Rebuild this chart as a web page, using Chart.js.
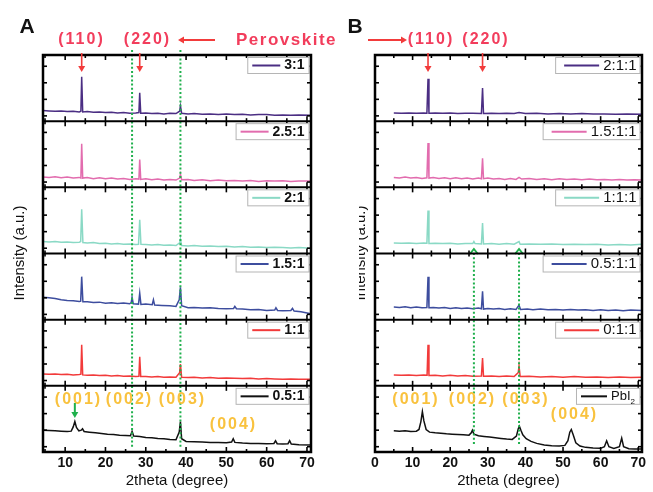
<!DOCTYPE html>
<html>
<head>
<meta charset="utf-8">
<script src="https://cdn.jsdelivr.net/npm/chart.js@4.4.1/dist/chart.umd.min.js"></script>
<style>
  html, body { margin: 0; padding: 0; background: #fff; }
  #wrap { position: relative; width: 653px; height: 492px; }
  canvas { position: absolute; left: 0; top: 0; }
</style>
</head>
<body>
<div id="wrap">
  <canvas id="chartA" width="653" height="492"></canvas>
  <canvas id="chartB" width="653" height="492"></canvas>
</div>
<script>
// valori: [2theta, intensità relativa nel proprio riquadro (0..1)]
const xTicksA = [10, 20, 30, 40, 50, 60, 70];
const xTicksB = [0, 10, 20, 30, 40, 50, 60, 70];

const labelsA = ['3:1', '2.5:1', '2:1', '1.5:1', '1:1', '0.5:1'];
const labelsB = ['2:1:1', '1.5:1:1', '1:1:1', '0.5:1:1', '0:1:1', 'PbI2'];
const colors = ['#4b2e83', '#e26cae', '#8ad9c5', '#3d4d9e', '#f23a3a', '#111111'];

const a31 = [[4.5,.16],[6,.155],[7.5,.15],[9,.155],[10.5,.145],[12,.15],[13.5,.14],[13.9,.15],[14.1,.67],[14.35,.14],[15.5,.145],[17,.135],[18.5,.14],[20,.13],[21.5,.135],[23,.125],[24.5,.13],[26,.12],[27.5,.125],[28.3,.13],[28.5,.43],[28.75,.12],[30,.125],[31.5,.115],[33,.12],[34.5,.11],[36,.12],[37.5,.115],[38.4,.15],[38.6,.23],[38.9,.12],[40.5,.11],[42,.115],[44,.105],[46,.11],[48,.1],[50,.11],[52,.1],[54,.105],[56,.095],[58,.1],[60,.1],[62,.09],[64,.095],[66,.09],[68,.095],[71,.09]];
const a251 = [[4.5,.155],[6,.15],[7.5,.16],[9,.145],[10.5,.155],[12,.14],[13.5,.15],[13.9,.14],[14.1,.66],[14.35,.14],[15.5,.15],[17,.13],[18.5,.145],[20,.13],[21.5,.14],[23,.125],[24.5,.135],[26,.12],[27.5,.13],[28.3,.125],[28.5,.42],[28.75,.12],[30,.13],[31.5,.115],[33,.125],[34.5,.11],[36,.12],[37.5,.11],[38.4,.14],[38.6,.2],[38.9,.115],[40.5,.12],[42,.105],[44,.115],[46,.1],[48,.11],[50,.1],[52,.105],[54,.095],[56,.105],[58,.09],[60,.1],[62,.095],[64,.1],[66,.09],[68,.095],[71,.095]];
const a21 = [[4.5,.18],[6,.175],[7.5,.18],[9,.17],[10.5,.175],[12,.165],[13.5,.17],[13.85,.18],[14.1,.67],[14.4,.165],[15.5,.16],[17,.165],[18.5,.15],[20,.155],[21.5,.145],[23,.15],[24.5,.14],[26,.145],[27.5,.135],[28.2,.14],[28.5,.51],[28.8,.14],[30,.135],[31.5,.13],[33,.135],[34.5,.125],[36,.13],[37.5,.12],[38.4,.16],[38.6,.22],[38.9,.12],[40.5,.115],[42,.12],[44,.11],[46,.115],[48,.105],[50,.11],[52,.1],[54,.105],[56,.095],[58,.1],[60,.09],[62,.095],[64,.09],[66,.085],[68,.09],[71,.08]];
const a151 = [[4.5,.34],[6,.33],[7.5,.32],[9,.3],[10.5,.29],[12,.285],[13.5,.275],[13.85,.28],[14.1,.65],[14.4,.27],[15.5,.27],[17,.26],[18.5,.265],[20,.25],[21.5,.255],[23,.245],[24.5,.25],[26,.24],[26.4,.26],[26.6,.34],[26.9,.24],[28.2,.235],[28.5,.4],[28.8,.23],[30,.235],[31.6,.225],[31.9,.3],[32.2,.22],[34,.215],[36,.21],[37.5,.2],[38.3,.3],[38.6,.49],[38.9,.21],[40.5,.18],[42,.185],[44,.175],[46,.18],[48,.17],[50,.165],[51.8,.17],[52.1,.2],[52.5,.165],[54,.16],[56,.15],[58,.155],[60,.14],[62,.145],[62.3,.18],[62.7,.14],[64,.135],[66,.14],[66.4,.17],[66.8,.13],[68.5,.12],[71,.09]];
const a11 = [[4.5,.18],[6,.175],[7.5,.18],[9,.17],[10.5,.175],[12,.165],[13.5,.17],[13.9,.175],[14.1,.62],[14.35,.165],[15.5,.16],[17,.165],[18.5,.155],[20,.16],[21.5,.15],[23,.155],[24.5,.145],[26,.15],[27.5,.14],[28.3,.145],[28.5,.44],[28.75,.14],[30,.14],[31.5,.135],[33,.14],[34.5,.13],[36,.135],[37.5,.13],[38.4,.2],[38.6,.33],[38.9,.13],[40.5,.125],[42,.13],[44,.12],[46,.125],[48,.115],[50,.12],[52,.115],[54,.11],[56,.115],[58,.105],[60,.11],[62,.105],[64,.1],[66,.105],[68,.1],[71,.1]];
const a051 = [[4.5,.33],[6,.325],[7.5,.32],[9,.315],[10.5,.31],[11.5,.315],[12,.38],[12.4,.46],[12.8,.37],[13.4,.32],[14,.33],[14.3,.35],[14.7,.31],[16,.3],[17.5,.29],[19,.28],[20.5,.27],[22,.265],[23.5,.255],[25,.25],[26.2,.245],[26.6,.31],[27,.24],[28.5,.235],[30,.22],[31.5,.215],[33,.205],[34.5,.2],[36,.19],[37.5,.185],[38.3,.3],[38.6,.46],[38.9,.2],[40,.16],[42,.155],[44,.15],[46,.145],[48,.145],[50,.14],[51.3,.15],[51.7,.2],[52.1,.145],[54,.135],[56,.13],[58,.13],[60,.125],[61.8,.13],[62.2,.17],[62.6,.125],[64,.12],[65.3,.125],[65.7,.17],[66.1,.12],[68,.11],[71,.105]];

const b211 = [[5,.125],[7,.12],[9,.125],[11,.12],[13,.125],[13.8,.12],[14.1,.64],[14.35,.12],[16,.125],[18,.12],[20,.125],[22,.115],[24,.12],[26,.12],[28.3,.115],[28.6,.5],[28.85,.115],[31,.12],[33,.115],[35,.12],[37,.115],[38.3,.13],[40,.115],[43,.12],[46,.11],[49,.115],[52,.11],[55,.115],[58,.11],[61,.11],[64,.105],[67,.11],[71,.105]];
const b1511 = [[5,.15],[6.5,.14],[8,.155],[9.5,.14],[11,.15],[12.5,.135],[13.8,.145],[14.1,.67],[14.35,.14],[15.5,.15],[17,.135],[18.5,.145],[20,.13],[21.5,.145],[23,.13],[24.5,.14],[26,.125],[27.5,.14],[28.3,.13],[28.6,.44],[28.85,.13],[30,.14],[31.5,.125],[33,.135],[34.5,.12],[36,.135],[37.5,.12],[38.3,.15],[39,.125],[41,.135],[43,.12],[45,.13],[47,.115],[49,.13],[51,.12],[53,.125],[55,.115],[57,.125],[59,.115],[61,.12],[63,.11],[65,.12],[67,.11],[69,.115],[71,.11]];
const b111 = [[5,.16],[7,.155],[9,.16],[11,.15],[13,.16],[13.8,.155],[14.1,.65],[14.35,.15],[16,.155],[18,.15],[20,.155],[22,.145],[24,.15],[26,.15],[26.3,.18],[26.6,.15],[28.3,.145],[28.6,.46],[28.85,.145],[31,.15],[33,.14],[35,.15],[37,.14],[38.3,.18],[38.6,.14],[41,.145],[44,.14],[47,.145],[50,.135],[53,.14],[56,.135],[59,.14],[62,.13],[65,.135],[68,.13],[71,.14]];
const b0511 = [[5,.19],[6.5,.185],[8,.195],[9.5,.18],[11,.19],[12.5,.18],[13.8,.185],[14.1,.65],[14.35,.18],[15.5,.185],[17,.175],[18.5,.185],[20,.17],[21.5,.18],[23,.17],[24.5,.175],[26,.165],[27.5,.175],[28.3,.165],[28.6,.43],[28.85,.16],[30,.17],[31.5,.16],[33,.17],[34.5,.155],[36,.165],[37.5,.155],[38.3,.22],[38.7,.155],[40.5,.16],[42,.15],[44,.16],[46,.15],[48,.155],[50,.145],[52,.155],[54,.145],[56,.15],[58,.14],[60,.15],[62,.14],[64,.145],[66,.135],[68,.145],[71,.14]];
const b011 = [[5,.165],[7,.16],[9,.165],[11,.155],[13,.165],[13.85,.16],[14.1,.62],[14.35,.155],[16,.16],[18,.15],[20,.16],[22,.15],[24,.155],[26,.145],[28.3,.15],[28.6,.42],[28.85,.145],[31,.15],[33,.14],[35,.15],[37,.14],[38.1,.2],[38.3,.3],[38.6,.14],[41,.145],[44,.135],[47,.14],[50,.13],[53,.14],[56,.13],[59,.135],[62,.125],[65,.135],[68,.125],[71,.13]];
const bPbI2 = [[5,.32],[6.5,.315],[8,.32],[9.5,.31],[11,.315],[11.7,.34],[12.2,.46],[12.6,.61],[13,.47],[13.6,.34],[14.5,.3],[16,.29],[17.5,.285],[19,.275],[20.5,.27],[22,.265],[23.5,.26],[25,.255],[25.6,.29],[25.9,.33],[26.3,.27],[27.5,.245],[29,.235],[30.5,.225],[32,.215],[33.5,.205],[35,.195],[36.5,.19],[37.6,.24],[38.1,.35],[38.4,.39],[38.8,.33],[39.3,.26],[40.2,.2],[41.5,.16],[43,.13],[45,.105],[47,.095],[49,.09],[50.5,.1],[51.3,.17],[51.8,.3],[52.2,.34],[52.7,.26],[53.4,.14],[54.5,.09],[56,.07],[58,.06],[60,.055],[61,.08],[61.6,.17],[62.2,.08],[63.5,.055],[65,.08],[65.6,.21],[66.1,.08],[67.5,.05],[69,.045],[71,.045]];

const seriesA = [a31, a251, a21, a151, a11, a051];
const seriesB = [b211, b1511, b111, b0511, b011, bPbI2];

const FONT = "'Liberation Sans', Arial, sans-serif";
const RED_TXT = '#f23d5c';
const RED = '#f23b3b';
const GOLD = '#f9c23e';
const GREEN = '#1fb04c';

function line(ctx, x1, y1, x2, y2) {
  ctx.beginPath(); ctx.moveTo(x1, y1); ctx.lineTo(x2, y2); ctx.stroke();
}

// freccia con punta piena, da (x1,y1) verso (x2,y2)
function arrow(ctx, x1, y1, x2, y2, color, w) {
  const ang = Math.atan2(y2 - y1, x2 - x1);
  const hl = 6, hw = 3.5;
  ctx.strokeStyle = color; ctx.fillStyle = color; ctx.lineWidth = w || 1.6;
  line(ctx, x1, y1, x2 - Math.cos(ang) * hl * 0.8, y2 - Math.sin(ang) * hl * 0.8);
  ctx.beginPath();
  ctx.moveTo(x2, y2);
  ctx.lineTo(x2 - Math.cos(ang) * hl - Math.sin(ang) * hw, y2 - Math.sin(ang) * hl + Math.cos(ang) * hw);
  ctx.lineTo(x2 - Math.cos(ang) * hl + Math.sin(ang) * hw, y2 - Math.sin(ang) * hl - Math.cos(ang) * hw);
  ctx.closePath(); ctx.fill();
}

function label(ctx, text, x, y, font, color, spacing, align) {
  ctx.font = font;
  ctx.fillStyle = color;
  ctx.letterSpacing = (spacing || 0) + 'px';
  ctx.textAlign = align || 'center';
  ctx.textBaseline = 'middle';
  ctx.fillText(text, x + (align === 'left' ? 0 : (spacing || 0) / 2), y);
  ctx.letterSpacing = '0px';
}

function dotted(ctx, x, y1, y2) {
  ctx.save();
  ctx.strokeStyle = GREEN; ctx.lineWidth = 2;
  ctx.setLineDash([2, 2.2]);
  line(ctx, x, y1, x, y2);
  ctx.restore();
}

function drawLegend(ctx, right, top, text, color, panel) {
  const isA = panel === 'A';
  const font = isA ? 'bold 14px ' + FONT : '15px ' + FONT;
  const sub = text === 'PbI2';
  ctx.font = sub ? '13px ' + FONT : font;
  let tw = sub ? ctx.measureText('PbI').width + 6 : ctx.measureText(text).width;
  const padL = isA ? 5 : (sub ? 5 : 9), lineLen = isA ? 28 : (sub ? 26 : 35), gap = 4, padR = isA ? 5 : 4;
  const w = padL + lineLen + gap + tw + padR;
  const h = 17;
  const left = right - w;
  ctx.fillStyle = '#fff';
  ctx.fillRect(left, top, w, h);
  ctx.strokeStyle = '#b5b5b5'; ctx.lineWidth = 1;
  ctx.strokeRect(left + 0.5, top + 0.5, w - 1, h - 1);
  ctx.strokeStyle = color; ctx.lineWidth = 2;
  line(ctx, left + padL, top + h / 2, left + padL + lineLen, top + h / 2);
  ctx.fillStyle = '#111'; ctx.textAlign = 'left'; ctx.textBaseline = 'middle';
  const tx = left + padL + lineLen + gap;
  if (sub) {
    ctx.fillText('PbI', tx, top + h / 2);
    const pw = ctx.measureText('PbI').width;
    ctx.font = '8px ' + FONT;
    ctx.fillText('2', tx + pw, top + h / 2 + 5);
  } else {
    ctx.font = font;
    ctx.fillText(text, tx, top + h / 2);
  }
}

// disegna cornici, tacche, legende e annotazioni di un pannello
function panelPlugin(panel, names, ticks, annotate) {
  return {
    id: 'panel' + panel,
    afterDatasetsDraw(chart) {
      const ctx = chart.ctx;
      const xs = chart.scales.x, ys = chart.scales.y;
      const { left, right, top, bottom } = chart.chartArea;
      ctx.save();
      annotate.lines(ctx, xs);

      ctx.strokeStyle = '#000';
      ctx.lineWidth = 2;
      for (let i = 1; i < 6; i++) {
        const py = ys.getPixelForValue(i);
        line(ctx, left, py, right, py);
      }
      for (let i = 0; i < 6; i++) {
        const t = ys.getPixelForValue(6 - i), b = ys.getPixelForValue(5 - i);
        ctx.strokeStyle = '#000';
        ctx.lineWidth = 1.6;
        for (let v = Math.ceil(xs.min / 5) * 5; v < xs.max; v += 5) {
          const len = v % 10 === 0 ? 5 : 3;
          const px = xs.getPixelForValue(v);
          line(ctx, px, t, px, t + len);
          line(ctx, px, b, px, b - len);
        }
        [0.08, 0.33, 0.58, 0.83].forEach(f => {
          const py = ys.getPixelForValue(5 - i + f);
          line(ctx, left, py, left + 4, py);
          line(ctx, right, py, right - 4, py);
        });
        drawLegend(ctx, right - 1.5, t + 2, names[i], colors[i], panel);
      }
      ctx.strokeStyle = '#000';
      ctx.lineWidth = 2.5;
      ctx.strokeRect(left, top, right - left, bottom - top);

      ticks.forEach(v => label(ctx, String(v), xs.getPixelForValue(v), 463, 'bold 14px ' + FONT, '#111'));
      label(ctx, '2theta (degree)', (left + right) / 2, 481, '15px ' + FONT, '#111');

      annotate.text(ctx, xs, ys);
      ctx.restore();
    }
  };
}

function makeDatasets(series) {
  return series.map((s, i) => ({
    data: s.map(p => ({ x: p[0], y: p[1] + 5 - i })),
    borderColor: colors[i],
    borderWidth: 1.5,
    pointRadius: 0,
    tension: 0,
    fill: false
  }));
}

function makeChart(id, series, xmin, xmax, pad, plugin) {
  return new Chart(document.getElementById(id), {
    type: 'line',
    data: { datasets: makeDatasets(series) },
    options: {
      responsive: false,
      animation: false,
      events: [],
      layout: { padding: pad },
      scales: {
        x: { type: 'linear', min: xmin, max: xmax, display: false },
        y: { min: 0, max: 6, display: false }
      },
      plugins: { legend: { display: false }, tooltip: { enabled: false } }
    },
    plugins: [plugin]
  });
}

const annotA = {
  lines(ctx, xs) {
    dotted(ctx, xs.getPixelForValue(26.6), 50, 448);
    dotted(ctx, xs.getPixelForValue(38.6), 50, 448);
  },
  text(ctx, xs) {
    label(ctx, 'A', 27, 27, 'bold 21px ' + FONT, '#111');
    label(ctx, '(110)', 80.5, 40, 'bold 16px ' + FONT, RED_TXT, 2);
    label(ctx, '(220)', 146.5, 40, 'bold 16px ' + FONT, RED_TXT, 2);
    arrow(ctx, 215, 40, 178, 40, RED, 2);
    label(ctx, 'Perovskite', 236, 40, 'bold 17px ' + FONT, RED_TXT, 1.5, 'left');
    arrow(ctx, xs.getPixelForValue(14.1), 53, xs.getPixelForValue(14.1), 72, RED);
    arrow(ctx, xs.getPixelForValue(28.5), 53, xs.getPixelForValue(28.5), 72, RED);
    const f = 'bold 16px ' + FONT;
    label(ctx, '(001)', 77.5, 400, f, GOLD, 2);
    label(ctx, '(002)', 128.5, 400, f, GOLD, 2);
    label(ctx, '(003)', 181.5, 400, f, GOLD, 2);
    label(ctx, '(004)', 232.5, 425, f, GOLD, 2);
    arrow(ctx, xs.getPixelForValue(12.4), 403, xs.getPixelForValue(12.4), 418, GREEN, 2);
    ctx.save();
    ctx.translate(20, 253); ctx.rotate(-Math.PI / 2);
    label(ctx, 'Intensity (a.u.)', 0, 0, '15px ' + FONT, '#111');
    ctx.restore();
  }
};

const annotB = {
  lines(ctx, xs) {
    [26.3, 38.3].forEach(v => {
      const px = xs.getPixelForValue(v);
      dotted(ctx, px, 444, 252);
      ctx.save();
      ctx.strokeStyle = GREEN; ctx.lineWidth = 2;
      ctx.beginPath(); ctx.moveTo(px - 4, 254); ctx.lineTo(px, 249); ctx.lineTo(px + 4, 254); ctx.stroke();
      ctx.restore();
    });
  },
  text(ctx, xs) {
    label(ctx, 'B', 355, 27, 'bold 21px ' + FONT, '#111');
    arrow(ctx, 368, 40, 407, 40, RED, 2);
    label(ctx, '(110)', 430, 40, 'bold 16px ' + FONT, RED_TXT, 2);
    label(ctx, '(220)', 485, 40, 'bold 16px ' + FONT, RED_TXT, 2);
    arrow(ctx, xs.getPixelForValue(14.1), 53, xs.getPixelForValue(14.1), 72, RED);
    arrow(ctx, xs.getPixelForValue(28.6), 53, xs.getPixelForValue(28.6), 72, RED);
    const f = 'bold 16px ' + FONT;
    label(ctx, '(001)', 415, 400, f, GOLD, 2);
    label(ctx, '(002)', 471.5, 400, f, GOLD, 2);
    label(ctx, '(003)', 525, 400, f, GOLD, 2);
    label(ctx, '(004)', 573.5, 415, f, GOLD, 2);
    // titolo dell'asse y tagliato sul bordo del pannello
    ctx.save();
    ctx.beginPath(); ctx.rect(359, 150, 14, 200); ctx.clip();
    ctx.translate(361, 253); ctx.rotate(-Math.PI / 2);
    label(ctx, 'Intensity (a.u.)', 0, 0, '15px ' + FONT, '#111');
    ctx.restore();
  }
};

makeChart('chartA', seriesA, 4.5, 71, { left: 43, right: 653 - 311, top: 55, bottom: 492 - 452 },
  panelPlugin('A', labelsA, xTicksA, annotA));
makeChart('chartB', seriesB, 0, 71, { left: 375, right: 653 - 642, top: 55, bottom: 492 - 452 },
  panelPlugin('B', labelsB, xTicksB, annotB));
</script>
</body>
</html>
